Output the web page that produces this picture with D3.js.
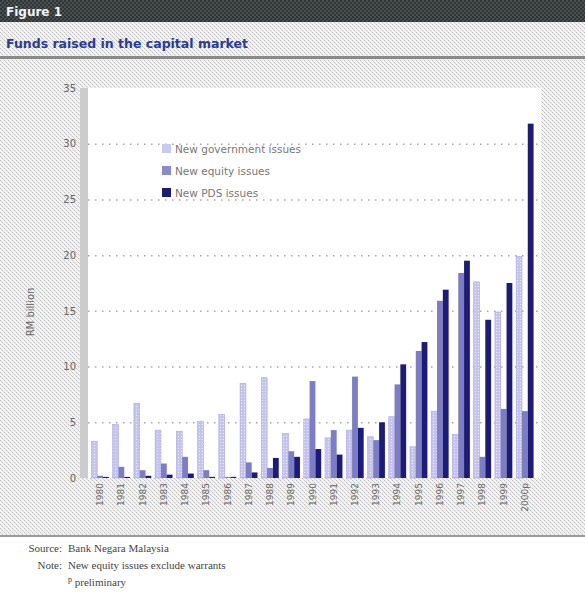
<!DOCTYPE html>
<html>
<head>
<meta charset="utf-8">
<script src="https://cdnjs.cloudflare.com/ajax/libs/d3/7.8.5/d3.min.js"></script>
<style>
  body { margin: 0; background: #fff; }
  svg { display: block; }
</style>
</head>
<body>
<div id="chart"></div>
<script>
(function() {

  // data, RM billion
  var years = ['1980','1981','1982','1983','1984','1985','1986','1987','1988','1989',
               '1990','1991','1992','1993','1994','1995','1996','1997','1998','1999','2000p'];
  var govIssues =    [3.3, 4.8, 6.7, 4.3, 4.2, 5.1, 5.7, 8.5, 9.0, 4.0,
                      5.3, 3.6, 4.3, 3.7, 5.5, 2.8, 6.0, 3.9, 17.6, 14.9, 19.9];
  var equityIssues = [0.2, 1.0, 0.7, 1.3, 1.9, 0.7, 0.1, 1.4, 0.9, 2.4,
                      8.7, 4.3, 9.1, 3.4, 8.4, 11.4, 15.9, 18.4, 1.9, 6.2, 6.0];
  var pdsIssues =    [0.1, 0.1, 0.2, 0.3, 0.4, 0.1, 0.1, 0.5, 1.8, 1.9,
                      2.6, 2.1, 4.5, 5.0, 10.2, 12.2, 16.9, 19.5, 14.2, 17.5, 31.8];
  var seriesNames = ['New government issues', 'New equity issues', 'New PDS issues'];
  var yTicks = [0, 5, 10, 15, 20, 25, 30, 35];

  var colors = ['url(#govFill)', '#7d7dc6', '#1c1c78'];
  var legendColors = ['#c9c9f0', '#8a8ad0', '#1c1c78'];

  var width = 585, height = 599;

  var svg = d3.select('#chart')
    .append('svg')
    .attr('width', width)
    .attr('height', height);

  var defs = svg.append('defs');

  // crosshatch background texture
  var hatch = defs.append('pattern')
    .attr('id', 'hatch')
    .attr('width', 4).attr('height', 4)
    .attr('patternUnits', 'userSpaceOnUse');
  hatch.append('rect').attr('width', 4).attr('height', 4).attr('fill', '#f2f2f2');
  hatch.append('rect').attr('x', 0).attr('y', 0).attr('width', 1).attr('height', 1).attr('fill', '#bdbdbd');
  hatch.append('rect').attr('x', 2).attr('y', 2).attr('width', 1).attr('height', 1).attr('fill', '#bdbdbd');
  hatch.append('rect').attr('x', 1).attr('y', 1).attr('width', 1).attr('height', 1).attr('fill', '#d6d6d6');
  hatch.append('rect').attr('x', 3).attr('y', 3).attr('width', 1).attr('height', 1).attr('fill', '#d6d6d6');

  var darkHatch = defs.append('pattern')
    .attr('id', 'darkHatch')
    .attr('width', 4).attr('height', 4)
    .attr('patternUnits', 'userSpaceOnUse');
  darkHatch.append('rect').attr('width', 4).attr('height', 4).attr('fill', '#4a5050');
  darkHatch.append('rect').attr('x', 0).attr('y', 0).attr('width', 2).attr('height', 2).attr('fill', '#2f3535');
  darkHatch.append('rect').attr('x', 2).attr('y', 2).attr('width', 2).attr('height', 2).attr('fill', '#2f3535');

  // light dotted fill for government bars
  var gov = defs.append('pattern')
    .attr('id', 'govFill')
    .attr('width', 3).attr('height', 3)
    .attr('patternUnits', 'userSpaceOnUse');
  gov.append('rect').attr('width', 3).attr('height', 3).attr('fill', '#c4c4ee');
  gov.append('rect').attr('x', 1).attr('y', 1).attr('width', 1).attr('height', 1).attr('fill', '#ececfa');

  // header
  svg.append('rect').attr('x', 0).attr('y', 0).attr('width', width).attr('height', 22)
    .attr('fill', 'url(#darkHatch)');
  svg.append('text')
    .attr('x', 6).attr('y', 16)
    .style('font-family', 'Verdana, "DejaVu Sans", sans-serif')
    .style('font-size', '12px')
    .style('font-weight', 'bold')
    .style('fill', '#f4f4f4')
    .text('Figure 1');

  svg.append('rect').attr('x', 0).attr('y', 22).attr('width', width).attr('height', 34)
    .attr('fill', 'url(#hatch)');
  svg.append('text')
    .attr('x', 6).attr('y', 48)
    .style('font-family', 'Verdana, "DejaVu Sans", sans-serif')
    .style('font-size', '12.5px')
    .style('font-weight', 'bold')
    .style('fill', '#283c9c')
    .text('Funds raised in the capital market');
  svg.append('rect').attr('x', 0).attr('y', 56).attr('width', width).attr('height', 3)
    .attr('fill', '#8a8a8a');

  // chart panel
  svg.append('rect').attr('x', 0).attr('y', 59).attr('width', width).attr('height', 476)
    .attr('fill', 'url(#hatch)');
  svg.append('rect').attr('x', 0).attr('y', 535).attr('width', width).attr('height', 2)
    .attr('fill', '#9a9a9a');

  var plot = { left: 88, right: 541, top: 88, bottom: 478 };

  svg.append('rect')
    .attr('x', plot.left).attr('y', plot.top)
    .attr('width', plot.right - plot.left).attr('height', plot.bottom - plot.top)
    .attr('fill', '#ffffff');

  var y = d3.scaleLinear().domain([0, 35]).range([plot.bottom, plot.top]);
  var x = d3.scaleBand().domain(years).range([91, 534]).paddingInner(0.18).paddingOuter(0.02);
  var xs = d3.scaleBand().domain([0, 1, 2]).range([0, x.bandwidth()]);

  // gridlines
  svg.append('g')
    .selectAll('line')
    .data(yTicks.filter(function(t) { return t > 0 && t < 35; }))
    .enter().append('line')
    .attr('x1', plot.left).attr('x2', plot.right)
    .attr('y1', function(d) { return y(d) + 0.5; })
    .attr('y2', function(d) { return y(d) + 0.5; })
    .attr('stroke', '#a8a8a8')
    .attr('stroke-width', 1.5)
    .attr('stroke-dasharray', '1.5,5.5');

  // y axis strip
  svg.append('rect')
    .attr('x', 80).attr('y', plot.top)
    .attr('width', 8).attr('height', plot.bottom - plot.top)
    .attr('fill', '#cccccc');

  var yAxis = svg.append('g')
    .attr('transform', 'translate(80,0)')
    .call(d3.axisLeft(y).tickValues(yTicks).tickSize(0).tickPadding(4));
  yAxis.select('.domain').remove();
  yAxis.selectAll('text')
    .style('font-family', '"DejaVu Sans", sans-serif')
    .style('font-size', '10px')
    .style('fill', '#666');

  svg.append('text')
    .attr('transform', 'translate(34,312) rotate(-90)')
    .attr('text-anchor', 'middle')
    .style('font-family', '"DejaVu Sans", sans-serif')
    .style('font-size', '10px')
    .style('fill', '#666')
    .text('RM billion');

  // bars
  var series = [govIssues, equityIssues, pdsIssues];
  series.forEach(function(vals, si) {
    svg.append('g')
      .selectAll('rect')
      .data(vals)
      .enter().append('rect')
      .attr('x', function(d, i) { return x(years[i]) + xs(si); })
      .attr('width', xs.bandwidth())
      .attr('y', function(d) { return y(d); })
      .attr('height', function(d) { return y(0) - y(d); })
      .attr('fill', colors[si])
      .attr('stroke', si === 0 ? '#a8a8e4' : 'none')
      .attr('stroke-width', 0.6);
  });

  // x labels
  svg.append('g')
    .selectAll('text')
    .data(years)
    .enter().append('text')
    .attr('transform', function(d) {
      return 'translate(' + (x(d) + x.bandwidth() / 2 + 3) + ',483) rotate(-90)';
    })
    .attr('text-anchor', 'end')
    .style('font-family', '"DejaVu Sans", sans-serif')
    .style('font-size', '9px')
    .style('fill', '#666')
    .text(function(d) { return d; });

  // legend
  var legend = svg.append('g').attr('transform', 'translate(162,144)');
  seriesNames.forEach(function(name, i) {
    legend.append('rect')
      .attr('x', 0).attr('y', i * 22)
      .attr('width', 9).attr('height', 9)
      .attr('fill', legendColors[i]);
    legend.append('text')
      .attr('x', 13).attr('y', i * 22 + 8.5)
      .style('font-family', '"DejaVu Sans", sans-serif')
      .style('font-size', '10.5px')
      .style('fill', '#777')
      .text(name);
  });

  // source notes
  var note = svg.append('g')
    .style('font-family', '"Liberation Serif", "DejaVu Serif", serif')
    .style('font-size', '11px')
    .style('fill', '#444');
  note.append('text').attr('x', 62).attr('y', 552).attr('text-anchor', 'end').text('Source:');
  note.append('text').attr('x', 68).attr('y', 552).text('Bank Negara Malaysia');
  note.append('text').attr('x', 62).attr('y', 569).attr('text-anchor', 'end').text('Note:');
  note.append('text').attr('x', 68).attr('y', 569).text('New equity issues exclude warrants');
  var pl = note.append('text').attr('x', 68).attr('y', 586);
  pl.append('tspan').attr('dy', -4).style('font-size', '8px').text('p');
  pl.append('tspan').attr('dy', 4).text(' preliminary');

})();
</script>
</body>
</html>
